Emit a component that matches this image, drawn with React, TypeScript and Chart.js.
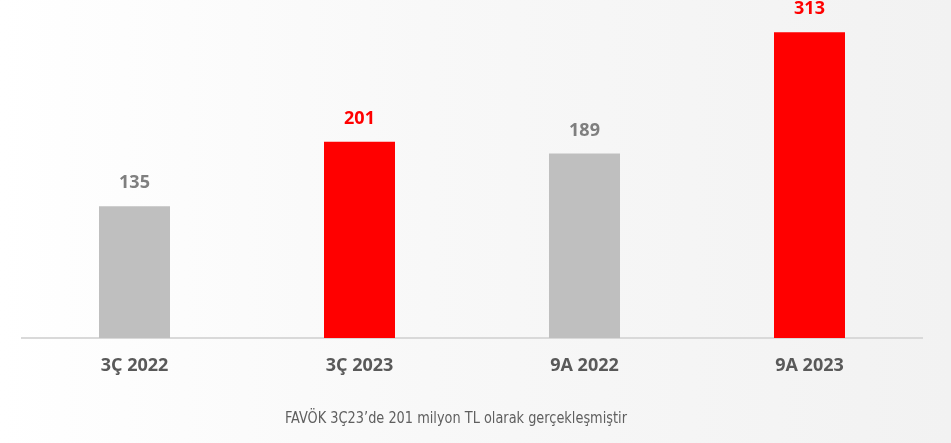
import React, { useEffect, useRef } from "react";
import { Chart, registerables } from "chart.js";

Chart.register(...registerables);

const categories = ["3Ç 2022", "3Ç 2023", "9A 2022", "9A 2023"];
const values = [135, 201, 189, 313];
const barColors = ["#bfbfbf", "#ff0000", "#bfbfbf", "#ff0000"];
const labelColors = ["#7f7f7f", "#ff0000", "#7f7f7f", "#ff0000"];
const caption = "FAVÖK 3Ç23’de 201 milyon TL olarak gerçekleşmiştir";

const valueLabels = {
  id: "valueLabels",
  afterDatasetsDraw(chart: any) {
    const ctx = chart.ctx;
    const meta = chart.getDatasetMeta(0);
    ctx.save();
    ctx.font = "bold 18px 'Open Sans'";
    ctx.textAlign = "center";
    ctx.textBaseline = "middle";
    meta.data.forEach((bar: any, i: number) => {
      ctx.fillStyle = labelColors[i];
      ctx.fillText(String(values[i]), bar.x, bar.y - 23);
    });
    ctx.restore();
  },
};

export default function App() {
  const canvasRef = useRef<HTMLCanvasElement>(null);
  const capRef = useRef<HTMLSpanElement>(null);

  useEffect(() => {
    document.body.style.margin = "0";
    if (capRef.current) {
      const w = capRef.current.getBoundingClientRect().width;
      if (w > 0) capRef.current.style.transform = `scaleX(${342 / w})`;
    }
    const chart = new Chart(canvasRef.current!, {
      type: "bar",
      data: {
        labels: categories,
        datasets: [
          {
            data: values,
            backgroundColor: barColors,
            borderWidth: 0,
            barPercentage: 1,
            categoryPercentage: 71 / 225,
          },
        ],
      },
      options: {
        animation: false,
        responsive: false,
        maintainAspectRatio: false,
        layout: { padding: { left: 22, right: 29, top: 6, bottom: 0 } },
        plugins: {
          legend: { display: false },
          tooltip: { enabled: false },
        },
        scales: {
          x: {
            grid: { display: false, drawTicks: false },
            border: { display: true, color: "#d9d9d9", width: 2 },
            ticks: {
              color: "#595959",
              font: { family: "'Open Sans'", weight: "bold", size: 18 },
              padding: 17,
            },
            afterFit(scale: any) {
              scale.height = 105;
            },
          },
          y: {
            display: false,
            min: 0,
            max: 340,
          },
        },
      },
      plugins: [valueLabels],
    });
    return () => chart.destroy();
  }, []);

  return (
    <div
      style={{
        position: "relative",
        width: 951,
        height: 443,
        overflow: "hidden",
        background: "linear-gradient(90deg, #ffffff 0%, #f8f8f8 45%, #f2f2f2 100%)",
      }}
    >
      <canvas ref={canvasRef} width={951} height={443} style={{ position: "absolute", left: 0, top: 0 }} />
      <div
        style={{
          position: "absolute",
          left: 285,
          top: 408,
          width: 342,
          height: 20,
          whiteSpace: "nowrap",
        }}
      >
        <span
          ref={capRef}
          style={{
            display: "inline-block",
            transformOrigin: "left center",
            fontFamily: "'DejaVu Sans Condensed', 'Liberation Sans Narrow', 'DejaVu Sans'",
            fontSize: 15,
            lineHeight: "20px",
            color: "#5f5f5f",
          }}
        >
          {caption}
        </span>
      </div>
    </div>
  );
}
